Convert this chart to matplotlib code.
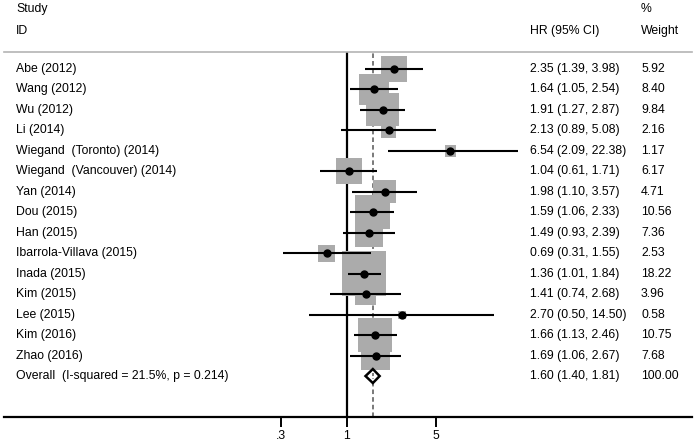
import numpy as np
import matplotlib
matplotlib.use("Agg")
import matplotlib.pyplot as plt
from matplotlib.transforms import blended_transform_factory

plt.rcParams['font.family'] = ['Liberation Sans', 'DejaVu Sans']

# study data
studies = ["Abe (2012)", "Wang (2012)", "Wu (2012)", "Li (2014)",
           "Wiegand  (Toronto) (2014)", "Wiegand  (Vancouver) (2014)",
           "Yan (2014)", "Dou (2015)", "Han (2015)", "Ibarrola-Villava (2015)",
           "Inada (2015)", "Kim (2015)", "Lee (2015)", "Kim (2016)", "Zhao (2016)"]
hr = [2.35, 1.64, 1.91, 2.13, 6.54, 1.04, 1.98, 1.59, 1.49, 0.69, 1.36, 1.41, 2.70, 1.66, 1.69]
lo = [1.39, 1.05, 1.27, 0.89, 2.09, 0.61, 1.10, 1.06, 0.93, 0.31, 1.01, 0.74, 0.50, 1.13, 1.06]
hi = [3.98, 2.54, 2.87, 5.08, 22.38, 1.71, 3.57, 2.33, 2.39, 1.55, 1.84, 2.68, 14.50, 2.46, 2.67]
weight = [5.92, 8.40, 9.84, 2.16, 1.17, 6.17, 4.71, 10.56, 7.36, 2.53, 18.22, 3.96, 0.58, 10.75, 7.68]

overall_label = "Overall  (I-squared = 21.5%, p = 0.214)"
overall_hr, overall_lo, overall_hi = 1.60, 1.40, 1.81
overall_weight = 100.00

xticks = [0.3, 1, 5]
xticklabels = [".3", "1", "5"]

W, H = 697, 448
fig = plt.figure(figsize=(W / 100, H / 100), dpi=100)

# forest axes: x=1 at 347px, ~55px per log unit
px_per_ln = 55.0
x_null = 347
ax = fig.add_axes([4 / W, 1 - 417 / H, (692 - 4) / W, (417 - 52) / H])
ax.set_xscale('log')
ax.set_xlim(np.exp((4 - x_null) / px_per_ln), np.exp((692 - x_null) / px_per_ln))
row0, row_h = 69, 20.47
ax.set_ylim((417 - row0) / row_h, (52 - row0) / row_h)

for s in ['left', 'right']:
    ax.spines[s].set_visible(False)
ax.spines['top'].set_color('#b4b4b4')
ax.spines['top'].set_linewidth(1.2)
ax.spines['bottom'].set_linewidth(1.6)
ax.spines['bottom'].set_color('black')

fs = 8.8
ax.set_xticks(xticks)
ax.set_xticklabels(xticklabels)
ax.xaxis.set_minor_locator(matplotlib.ticker.NullLocator())
ax.tick_params(axis='x', direction='out', length=7.5, width=1.4, pad=2, labelsize=fs)
ax.set_yticks([])

n = len(studies)
ys = np.arange(n)
y_over = n

# reference lines (behind the boxes)
ax.axvline(1, color='black', lw=1.6, zorder=1)
ax.axvline(overall_hr, color='#555555', lw=1.1, ls=(0, (3, 2)), zorder=1)

# weight boxes: area proportional to weight
side_px = 10.5 * np.sqrt(weight)
ax.scatter(hr, ys, marker='s', s=(side_px * 0.72) ** 2, color='#ababab',
           linewidths=0, zorder=2)

ax.hlines(ys, lo, hi, color='black', lw=1.5, zorder=3)
ax.plot(hr, ys, 'o', color='black', ms=5, zorder=4)

# overall diamond
dh = 7 / row_h
ax.fill([overall_lo, overall_hr, overall_hi, overall_hr, overall_lo],
        [y_over, y_over - dh, y_over, y_over + dh, y_over],
        facecolor='white', edgecolor='black', lw=1.8, zorder=3)
ax.plot([overall_hr, overall_hr], [y_over - dh * 0.45, y_over + dh * 0.45],
        color='#555555', lw=1.1, ls=(0, (2, 1.5)), zorder=4)

# text columns
tr = blended_transform_factory(fig.transFigure, ax.transData)
x_lab, x_hr, x_w = 16 / W, 530 / W, 641 / W
for i in range(n):
    ax.text(x_lab, ys[i], studies[i], transform=tr, fontsize=fs, va='center', clip_on=False)
    ax.text(x_hr, ys[i], "%.2f (%.2f, %.2f)" % (hr[i], lo[i], hi[i]), transform=tr,
            fontsize=fs, va='center', clip_on=False)
    ax.text(x_w, ys[i], "%.2f" % weight[i], transform=tr, fontsize=fs, va='center', clip_on=False)
ax.text(x_lab, y_over, overall_label, transform=tr, fontsize=fs, va='center', clip_on=False)
ax.text(x_hr, y_over, "%.2f (%.2f, %.2f)" % (overall_hr, overall_lo, overall_hi), transform=tr,
        fontsize=fs, va='center', clip_on=False)
ax.text(x_w, y_over, "%.2f" % overall_weight, transform=tr, fontsize=fs, va='center', clip_on=False)

# headers
fig.text(x_lab, 1 - 9 / H, "Study", fontsize=fs, va='center')
fig.text(x_lab, 1 - 31 / H, "ID", fontsize=fs, va='center')
fig.text(x_hr, 1 - 31 / H, "HR (95% CI)", fontsize=fs, va='center')
fig.text(x_w, 1 - 9 / H, "%", fontsize=fs, va='center')
fig.text(x_w, 1 - 31 / H, "Weight", fontsize=fs, va='center')

fig.savefig("out.png", dpi=100)
